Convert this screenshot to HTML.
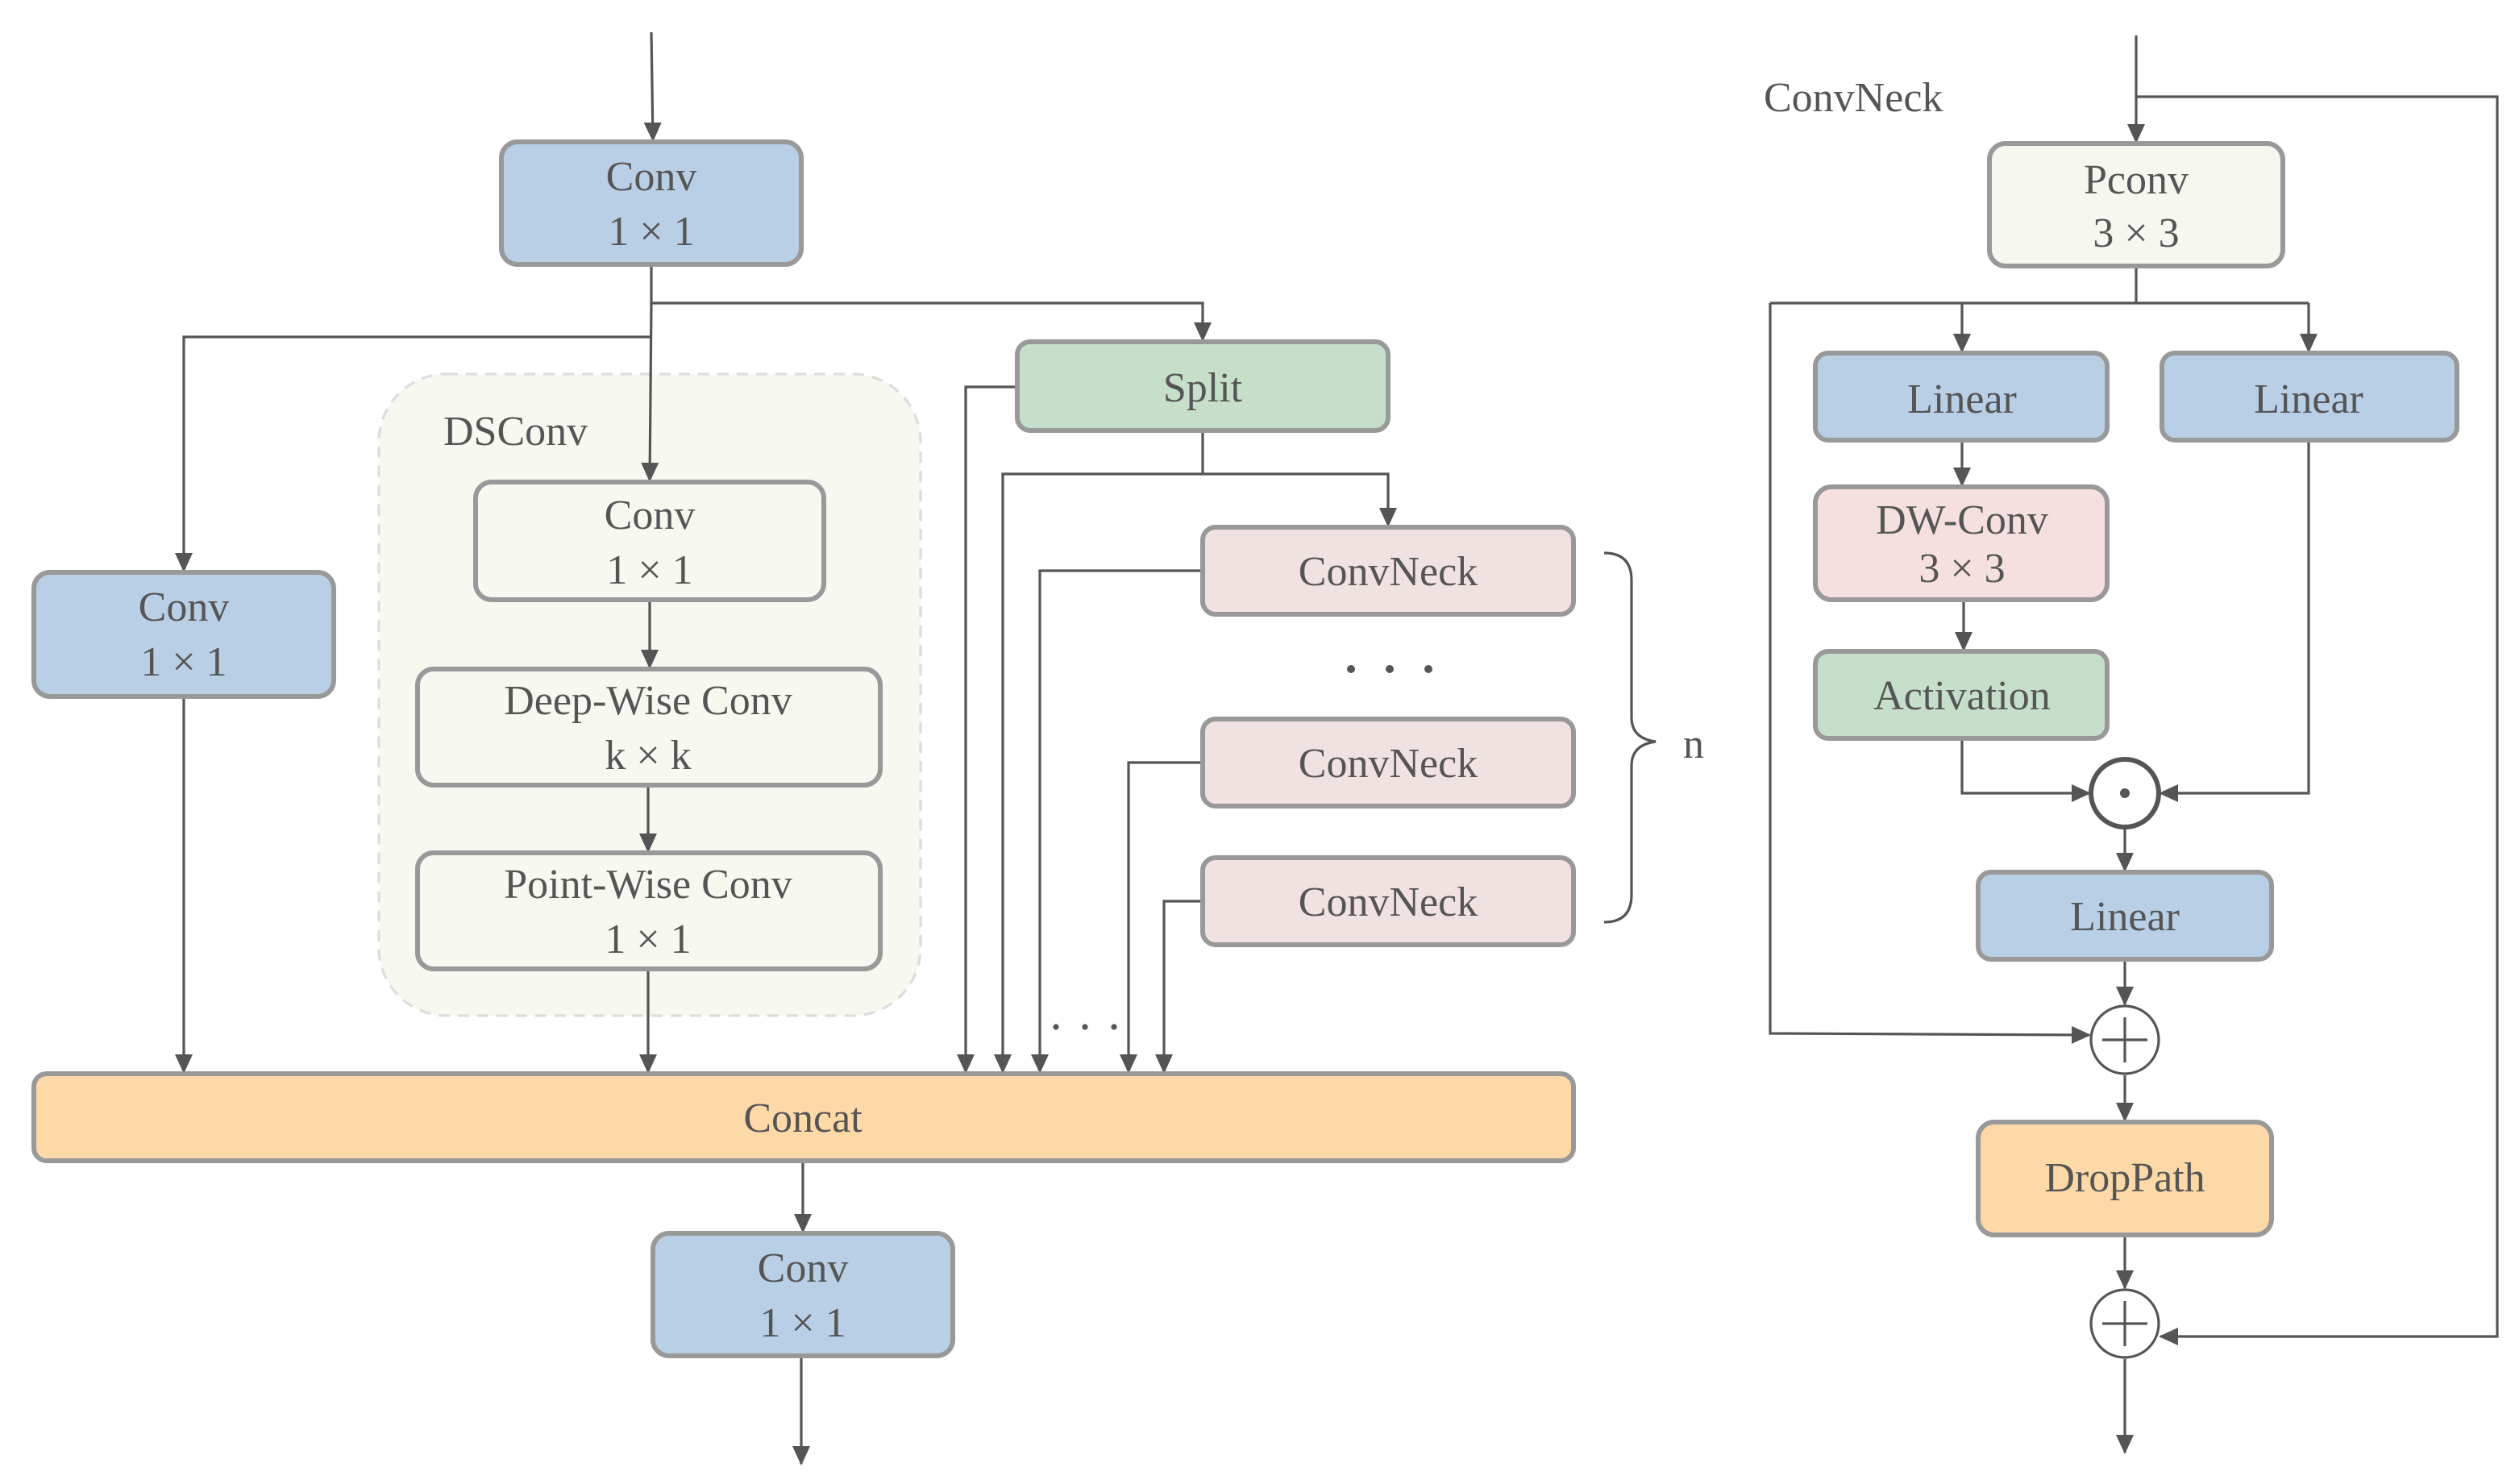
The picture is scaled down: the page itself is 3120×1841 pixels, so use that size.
<!DOCTYPE html>
<html><head><meta charset="utf-8"><style>html,body{margin:0;padding:0;background:#fff}svg{display:block}</style></head><body>
<svg width="3120" height="1841" viewBox="0 0 1560 920.5" xmlns="http://www.w3.org/2000/svg" font-family="'Liberation Serif', serif" fill="#555" font-size="25">
<defs><marker id="a" markerWidth="12" markerHeight="12" refX="11" refY="6" orient="auto" markerUnits="userSpaceOnUse"><path d="M0,0.5 L12,6 L0,11.5 z" fill="#555"/></marker></defs>
<g stroke="#555" stroke-width="1.6" fill="none">
<rect x="235" y="232" width="336" height="398" rx="42" fill="#f7f8ef" stroke="#ddd" stroke-dasharray="7,5"/>
<path d="M404,20 L405,87" marker-end="url(#a)"/>
<path d="M404,164 L404,188 L746,188 L746,211" marker-end="url(#a)"/>
<path d="M404,188 L403,298" marker-end="url(#a)"/>
<path d="M404,209 L114,209 L114,354" marker-end="url(#a)"/>
<path d="M403,372 L403,414" marker-end="url(#a)"/>
<path d="M402,487 L402,528" marker-end="url(#a)"/>
<path d="M402,601 L402,665" marker-end="url(#a)"/>
<path d="M114,432 L114,665" marker-end="url(#a)"/>
<path d="M498,720 L498,764" marker-end="url(#a)"/>
<path d="M497,841 L497,908" marker-end="url(#a)"/>
<path d="M631,240 L599,240 L599,665" marker-end="url(#a)"/>
<path d="M746,267 L746,294 L622,294 L622,665" marker-end="url(#a)"/>
<path d="M746,294 L861,294 L861,326" marker-end="url(#a)"/>
<path d="M746,354 L645,354 L645,665" marker-end="url(#a)"/>
<path d="M746,473 L700,473 L700,665" marker-end="url(#a)"/>
<path d="M746,559 L722,559 L722,665" marker-end="url(#a)"/>
<path d="M995,343 Q1012,343 1012,360 L1012,445 Q1012,458 1027,460 Q1012,462 1012,475 L1012,555 Q1012,572 995,572"/>
<path d="M1325,22 L1325,88" marker-end="url(#a)"/>
<path d="M1325,60 L1549,60 L1549,829 L1340,829" marker-end="url(#a)"/>
<path d="M1325,165 L1325,188 M1098,188 L1432,188"/>
<path d="M1217,188 L1217,218" marker-end="url(#a)"/>
<path d="M1432,188 L1432,218" marker-end="url(#a)"/>
<path d="M1098,188 L1098,641 L1296,642" marker-end="url(#a)"/>
<path d="M1217,273 L1217,301" marker-end="url(#a)"/>
<path d="M1218,372 L1218,403" marker-end="url(#a)"/>
<path d="M1217,458 L1217,492 L1296,492" marker-end="url(#a)"/>
<path d="M1432,273 L1432,492 L1340,492" marker-end="url(#a)"/>
<path d="M1318,514 L1318,540" marker-end="url(#a)"/>
<path d="M1318,595 L1318,623" marker-end="url(#a)"/>
<path d="M1318,667 L1318,695" marker-end="url(#a)"/>
<path d="M1318,766 L1318,799" marker-end="url(#a)"/>
<path d="M1318,843 L1318,901" marker-end="url(#a)"/>
<circle cx="1318" cy="492" r="21" fill="#fff" stroke-width="3"/>
<circle cx="1318" cy="645" r="21" fill="#fff"/>
<path d="M1304,645 L1332,645 M1318,631 L1318,659"/>
<circle cx="1318" cy="821" r="21" fill="#fff"/>
<path d="M1304,821 L1332,821 M1318,807 L1318,835"/>
</g>
<circle cx="1318" cy="492" r="3" fill="#555"/>
<g fill="#555"><circle cx="838" cy="415" r="2.5"/><circle cx="862" cy="415" r="2.5"/><circle cx="886" cy="415" r="2.5"/>
<circle cx="655" cy="637" r="1.8"/><circle cx="673" cy="637" r="1.8"/><circle cx="691" cy="637" r="1.8"/></g>
<g stroke="#999" stroke-width="3">
<rect x="311" y="88" width="186" height="76" rx="10" fill="#b8cfe6"/>
<rect x="21" y="355" width="186" height="77" rx="10" fill="#b8cfe6"/>
<rect x="295" y="299" width="216" height="73" rx="10" fill="#f7f8ef"/>
<rect x="259" y="415" width="287" height="72" rx="10" fill="#f7f8ef"/>
<rect x="259" y="529" width="287" height="72" rx="10" fill="#f7f8ef"/>
<rect x="21" y="666" width="955" height="54" rx="8" fill="#fdd9a8"/>
<rect x="405" y="765" width="186" height="76" rx="10" fill="#b8cfe6"/>
<rect x="631" y="212" width="230" height="55" rx="8" fill="#c6dfca"/>
<rect x="746" y="327" width="230" height="54" rx="8" fill="#efe2e0"/>
<rect x="746" y="446" width="230" height="54" rx="8" fill="#efe2e0"/>
<rect x="746" y="532" width="230" height="54" rx="8" fill="#efe2e0"/>
<rect x="1234" y="89" width="182" height="76" rx="10" fill="#f6f8ef"/>
<rect x="1126" y="219" width="181" height="54" rx="8" fill="#b8cfe6"/>
<rect x="1341" y="219" width="183" height="54" rx="8" fill="#b8cfe6"/>
<rect x="1126" y="302" width="181" height="70" rx="10" fill="#f6e0df"/>
<rect x="1126" y="404" width="181" height="54" rx="8" fill="#c6dfca"/>
<rect x="1227" y="541" width="182" height="54" rx="8" fill="#b8cfe6"/>
<rect x="1227" y="696" width="182" height="70" rx="10" fill="#fdd9a8"/>
</g>
<g text-anchor="middle" font-size="26">
<text x="404" y="118">Conv</text><text x="404" y="152">1 × 1</text>
<text x="114" y="385">Conv</text><text x="114" y="419">1 × 1</text>
<text x="403" y="328">Conv</text><text x="403" y="362">1 × 1</text>
<text x="402" y="443">Deep-Wise Conv</text><text x="402" y="477">k × k</text>
<text x="402" y="557">Point-Wise Conv</text><text x="402" y="591">1 × 1</text>
<text x="498" y="702">Concat</text>
<text x="498" y="795">Conv</text><text x="498" y="829">1 × 1</text>
<text x="746" y="249">Split</text>
<text x="861" y="363">ConvNeck</text>
<text x="861" y="482">ConvNeck</text>
<text x="861" y="568">ConvNeck</text>
<text x="1325" y="120">Pconv</text><text x="1325" y="153">3 × 3</text>
<text x="1217" y="256">Linear</text>
<text x="1432" y="256">Linear</text>
<text x="1217" y="331">DW-Conv</text><text x="1217" y="361">3 × 3</text>
<text x="1217" y="440">Activation</text>
<text x="1318" y="577">Linear</text>
<text x="1318" y="739">DropPath</text>
</g>
<text x="275" y="276" font-size="26">DSConv</text>
<text x="1044" y="470" font-size="26">n</text>
<text x="1094" y="69" font-size="26">ConvNeck</text>
</svg>
</body></html>
